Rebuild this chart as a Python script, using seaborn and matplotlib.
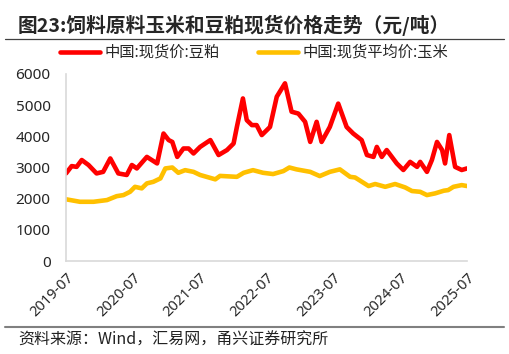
import pandas as pd
import matplotlib.pyplot as plt
import seaborn as sns

# 中国:现货价:豆粕 (元/吨)
meal_dates = ["2019-07-01", "2019-08-01", "2019-08-28", "2019-09-25", "2019-11-01", "2019-12-15",
              "2020-01-20", "2020-02-28", "2020-04-12", "2020-05-28", "2020-06-25", "2020-07-22",
              "2020-09-15", "2020-11-10", "2020-12-15", "2021-01-12", "2021-02-01", "2021-02-28",
              "2021-04-03", "2021-05-01", "2021-05-28", "2021-07-03", "2021-08-28", "2021-10-12",
              "2021-11-27", "2022-01-02", "2022-01-20", "2022-02-22", "2022-03-15", "2022-04-12",
              "2022-05-08", "2022-06-05", "2022-07-20", "2022-08-26", "2022-10-10", "2022-11-15",
              "2022-12-22", "2023-01-28", "2023-02-25", "2023-04-01", "2023-04-28", "2023-06-12",
              "2023-07-28", "2023-09-12", "2023-10-18", "2023-12-03", "2024-01-01", "2024-02-06",
              "2024-02-24", "2024-03-22", "2024-04-18", "2024-06-12", "2024-07-18", "2024-08-24",
              "2024-10-01", "2024-10-18", "2024-11-24", "2024-12-21", "2025-01-18", "2025-02-15",
              "2025-03-03", "2025-03-26", "2025-04-27", "2025-06-02", "2025-07-01"]
meal_values = [2810, 3045, 3020, 3240, 3080, 2810,
               2860, 3290, 2810, 2760, 3080, 2970,
               3340, 3130, 4090, 3880, 3820, 3340,
               3610, 3610, 3450, 3660, 3880, 3400,
               3560, 3770, 4300, 5215, 4520, 4360,
               4360, 4040, 4300, 5270, 5700, 4790,
               4730, 4465, 3820, 4465, 3820, 4300,
               5050, 4300, 4090, 3880, 3400, 3340,
               3660, 3340, 3560, 3130, 2920, 3180,
               3020, 3180, 2860, 3240, 3820, 3560,
               3130, 4040, 3020, 2920, 2970]

# 中国:现货平均价:玉米 (元/吨)
corn_dates = ["2019-07-01", "2019-09-15", "2019-11-28", "2020-02-10", "2020-04-03", "2020-05-10",
              "2020-06-15", "2020-07-12", "2020-08-18", "2020-09-15", "2020-10-20", "2020-11-28",
              "2020-12-25", "2021-02-01", "2021-03-06", "2021-04-12", "2021-05-28", "2021-07-03",
              "2021-09-24", "2021-10-20", "2022-01-20", "2022-02-26", "2022-04-18", "2022-06-12",
              "2022-08-06", "2022-10-01", "2022-11-03", "2022-12-12", "2023-02-25", "2023-04-18",
              "2023-06-12", "2023-08-06", "2023-10-01", "2023-10-28", "2024-01-10", "2024-02-15",
              "2024-04-10", "2024-06-03", "2024-07-28", "2024-09-03", "2024-10-18", "2024-11-24",
              "2025-01-08", "2025-02-24", "2025-03-20", "2025-04-18", "2025-06-02", "2025-07-01"]
corn_values = [1980, 1900, 1900, 1955, 2080, 2115,
               2220, 2380, 2330, 2490, 2540, 2650,
               2970, 3000, 2830, 2915, 2860, 2760,
               2620, 2730, 2700, 2830, 2915, 2830,
               2790, 2885, 3000, 2940, 2860, 2725,
               2860, 2940, 2700, 2680, 2405, 2470,
               2380, 2470, 2360, 2245, 2220, 2115,
               2170, 2255, 2275, 2380, 2435, 2405]

series_names = ["中国:现货价:豆粕", "中国:现货平均价:玉米"]
colors = ["#FF0000", "#FFC000"]
tick_labels = ["2019-07", "2020-07", "2021-07", "2022-07", "2023-07", "2024-07", "2025-07"]

df = pd.concat([
    pd.DataFrame({"date": pd.to_datetime(meal_dates), "value": meal_values, "series": series_names[0]}),
    pd.DataFrame({"date": pd.to_datetime(corn_dates), "value": corn_values, "series": series_names[1]}),
])

sns.set_style("white")
plt.rcParams['font.family'] = ['Noto Sans CJK SC', 'DejaVu Sans']

fig = plt.figure(figsize=(5.09, 3.54), dpi=100)
ax = fig.add_axes([0.1297, 0.2627, 0.7878, 0.5283])

sns.lineplot(data=df, x="date", y="value", hue="series", palette=colors,
             hue_order=series_names, linewidth=3.3, ax=ax, legend=False)

ticks = pd.to_datetime([t + "-01" for t in tick_labels])
ax.set_xlim(ticks[0], ticks[-1])
ax.set_xticks(ticks)
ax.set_xticklabels(tick_labels, rotation=45, ha="right", rotation_mode="anchor",
                   family=["Noto Sans", "DejaVu Sans"], fontsize=10.5)
ax.set_ylim(0, 6000)
ax.set_yticks(range(0, 6001, 1000))
ax.set_yticklabels([str(v) for v in range(0, 6001, 1000)], family=["Noto Sans", "DejaVu Sans"], fontsize=11)
ax.set_xlabel("")
ax.set_ylabel("")

for s in ["top", "right"]:
    ax.spines[s].set_visible(False)
for s in ["left", "bottom"]:
    ax.spines[s].set_color("#d9d9d9")
    ax.spines[s].set_linewidth(1.2)
ax.tick_params(axis="x", direction="out", length=4, color="#d9d9d9", pad=3)
ax.tick_params(axis="y", length=0, pad=11)

# legend drawn by hand above the plot
for name, col, x0 in zip(series_names, colors, [0.118, 0.507]):
    fig.add_artist(plt.Line2D([x0, x0 + 0.078], [0.853, 0.853], color=col, linewidth=3.3))
    fig.text(x0 + 0.087, 0.853, name, fontsize=11, va="center", ha="left")

# title with rule under it
fig.text(0.035, 0.928, "图23:饲料原料玉米和豆粕现货价格走势（元/吨）", fontsize=14.2,
         fontweight="bold", va="center", ha="left")
fig.add_artist(plt.Line2D([0.01, 0.99], [0.889, 0.889], color="#404040", linewidth=0.9))

# source footer
fig.add_artist(plt.Line2D([0.01, 0.99], [0.076, 0.076], color="#808080", linewidth=1.5))
fig.text(0.035, 0.038, "资料来源：Wind，汇易网，甬兴证券研究所", fontsize=11.5,
         va="center", ha="left", color="#222222")

fig.savefig("out.png", dpi=100)
